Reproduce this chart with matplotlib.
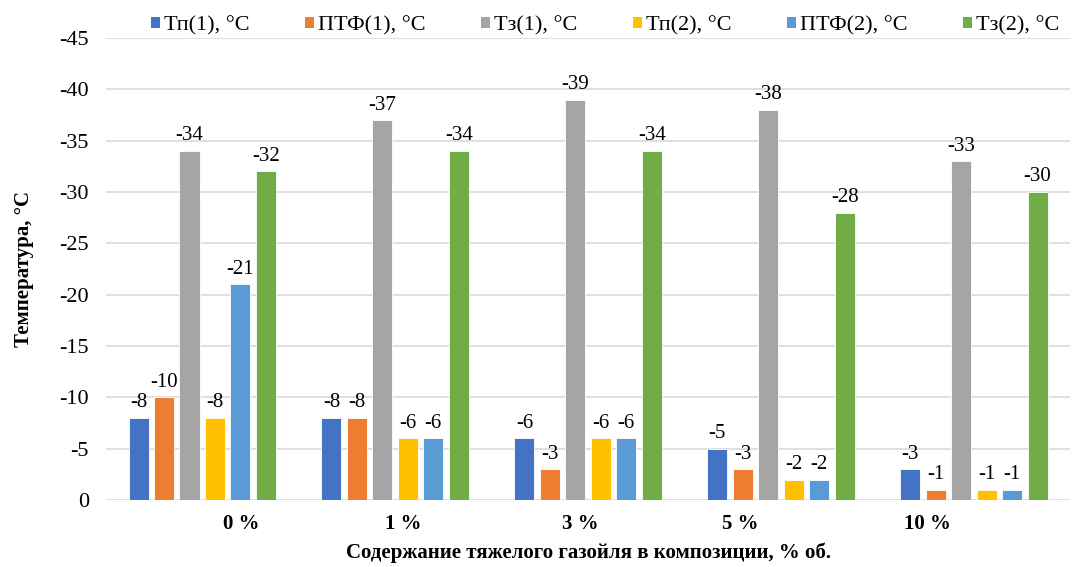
import numpy as np
import matplotlib
matplotlib.use("Agg")
import matplotlib.pyplot as plt
from matplotlib.patches import Patch

plt.rcParams['font.family'] = ['Liberation Serif', 'DejaVu Serif']
plt.rcParams['axes.unicode_minus'] = False

# данные
categories = ["0 %", "1 %", "3 %", "5 %", "10 %"]
series_names = ["Тп(1), °C", "ПТФ(1), °C", "Тз(1), °C", "Тп(2), °C", "ПТФ(2), °C", "Тз(2), °C"]
tp1 = [-8, -8, -6, -5, -3]
ptf1 = [-10, -8, -3, -3, -1]
tz1 = [-34, -37, -39, -38, -33]
tp2 = [-8, -6, -6, -2, -1]
ptf2 = [-21, -6, -6, -2, -1]
tz2 = [-32, -34, -34, -28, -30]
y_ticks = [0, -5, -10, -15, -20, -25, -30, -35, -40, -45]

colors = ["#4472C4", "#ED7D31", "#A5A5A5", "#FFC000", "#5B9BD5", "#70AD47"]
label_shift = [0.2, 0.04, -0.04, -0.21, -0.24]  # подписи категорий смещены как в оригинале

fig = plt.figure(figsize=(10.79, 5.67), dpi=100)
ax = fig.add_axes([0.098, 0.118, 0.894, 0.815])

x = np.arange(len(categories))
step = 0.132
width = 0.104
all_series = [tp1, ptf1, tz1, tp2, ptf2, tz2]
for i, vals in enumerate(all_series):
    pos = x + (i - 2.5) * step
    bars = ax.bar(pos, vals, width, color=colors[i], edgecolor="white", linewidth=0.6, zorder=3)
    for b, v in zip(bars, vals):
        ax.annotate(str(v), (b.get_x() + b.get_width() / 2, v), xytext=(0, 4),
                    textcoords="offset points", ha="center", va="bottom", fontsize=15)

ax.set_ylim(0, -45)
ax.set_xlim(-0.5, len(categories) - 0.5)
ax.set_yticks(y_ticks)
ax.set_yticklabels([str(t) for t in y_ticks], fontsize=16)
ax.set_xticks(x + np.array(label_shift))
ax.set_xticklabels(categories, fontsize=15, fontweight="bold")
ax.tick_params(axis="both", length=0)
ax.tick_params(axis="x", pad=10)
ax.tick_params(axis="y", pad=12)
ax.grid(axis="y", color="#D9D9D9", linewidth=1.2, zorder=0)
for s in ax.spines.values():
    s.set_visible(False)

ax.set_ylabel("Температура, °С", fontsize=15, fontweight="bold", labelpad=18)
ax.set_xlabel("Содержание тяжелого газойля в композиции, % об.", fontsize=15,
              fontweight="bold", labelpad=6)

handles = [Patch(facecolor=c, edgecolor="none") for c in colors]
fig.legend(handles, series_names, loc="center", bbox_to_anchor=(0.561, 0.955), ncol=6,
           frameon=False, fontsize=16, handlelength=0.38, handleheight=0.38,
           handletextpad=0.2, columnspacing=2.5)

fig.savefig("out.png", dpi=100)
